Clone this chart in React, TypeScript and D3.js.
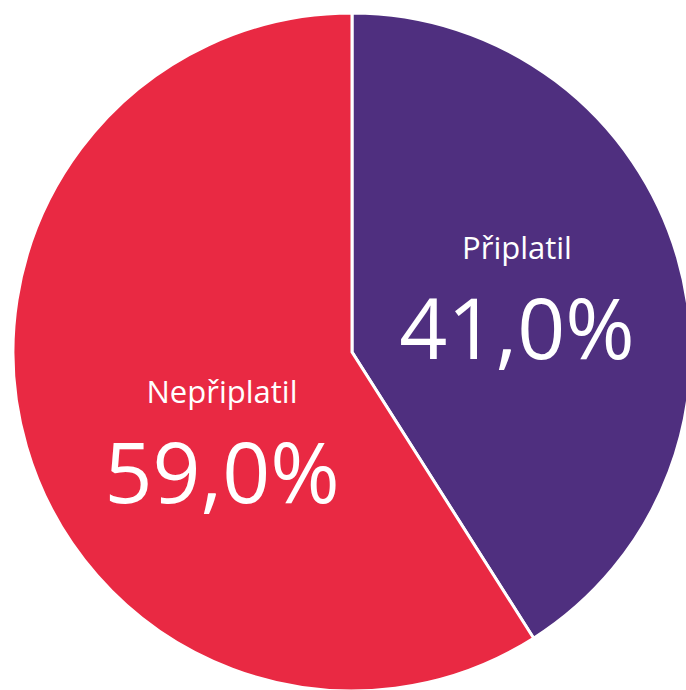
import React from "react";
import * as d3 from "d3";

const labels = ["Připlatil", "Nepřiplatil"];
const values = [41.0, 59.0];
const colors = ["#4F2F7F", "#E92943"];

export default function App() {
  const width = 686;
  const height = 690;
  const cx = 352;
  const cy = 352;
  const radius = 339;

  const pie = d3
    .pie<number>()
    .sort(null)
    .value((d) => d);
  const arcs = pie(values);
  const arc = d3.arc<d3.PieArcDatum<number>>().innerRadius(0).outerRadius(radius);

  // label anchor offsets from the centre, tweaked by hand per slice
  const labelPos = [
    { x: 165, y: -53 },
    { x: -130, y: 91 },
  ];
  const fmt = (v: number) => v.toFixed(1).replace(".", ",") + "%";

  return (
    <svg
      width={width}
      height={height}
      style={{ position: "absolute", left: 0, top: 0, background: "#fff" }}
    >
      <g transform={`translate(${cx},${cy})`}>
        {arcs.map((a, i) => (
          <path key={i} d={arc(a) || ""} fill={colors[i]} stroke="#fff" strokeWidth={3} />
        ))}
        {arcs.map((a, i) => (
          <g key={"l" + i} fill="#fff" fontFamily="'Open Sans', sans-serif" textAnchor="middle">
            <text x={labelPos[i].x} y={labelPos[i].y - 40} fontSize={31}>
              {labels[i]}
            </text>
            <text x={labelPos[i].x} y={labelPos[i].y + 60} fontSize={84}>
              {fmt(values[i])}
            </text>
          </g>
        ))}
      </g>
    </svg>
  );
}
